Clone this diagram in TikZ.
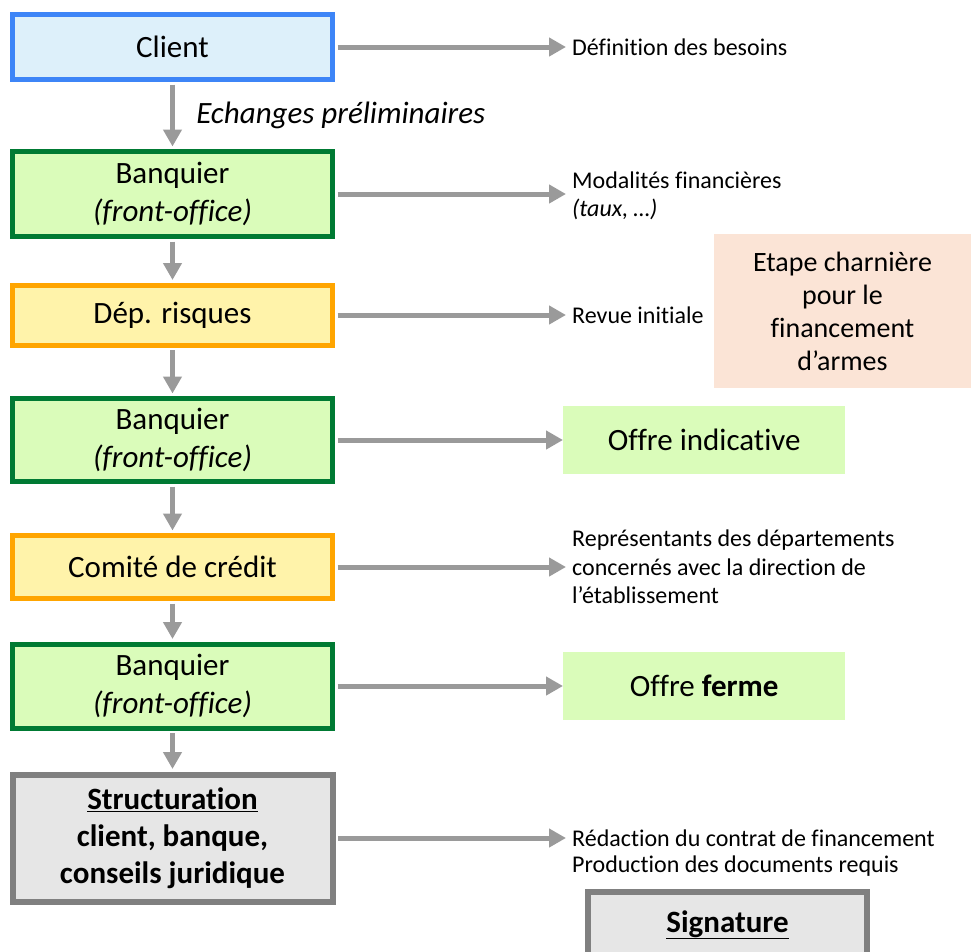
\documentclass[tikz,border=0pt]{standalone}
\usepackage{fontspec}
\setmainfont{Carlito}[Ligatures=NoCommon]
\usetikzlibrary{arrows.meta}
\definecolor{bleuBord}{RGB}{61,133,247}
\definecolor{bleuFond}{RGB}{221,240,250}
\definecolor{vertBord}{RGB}{0,122,51}
\definecolor{vertFond}{RGB}{218,252,186}
\definecolor{orangeBord}{RGB}{255,165,0}
\definecolor{jauneFond}{RGB}{255,243,170}
\definecolor{grisBord}{RGB}{128,128,128}
\definecolor{grisFond}{RGB}{230,230,230}
\definecolor{roseFond}{RGB}{251,228,214}
\definecolor{grisFleche}{RGB}{154,154,154}
\tikzset{
	boite/.style={draw, line width=5pt, inner sep=0pt, minimum width=320pt, align=center,
		font=\fontsize{31}{38}\selectfont},
	client/.style={boite, draw=bleuBord, fill=bleuFond},
	banquier/.style={boite, draw=vertBord, fill=vertFond},
	risque/.style={boite, draw=orangeBord, fill=jauneFond},
	structure/.style={boite, line width=6pt, draw=grisBord, fill=grisFond},
	note/.style={anchor=west, inner xsep=6pt, inner ysep=0pt, align=left,
		font=\fontsize{24}{28.5}\selectfont},
	offre/.style={anchor=west, fill=vertFond, minimum width=282pt, minimum height=68pt,
		font=\fontsize{31}{38}\selectfont},
	fleche/.style={draw=grisFleche, line width=5pt, shorten <=2.5pt,
		-{Triangle[length=17pt,width=18pt]}},
}
\begin{document}
\begin{tikzpicture}[x=1pt,y=-1pt]
	\clip (0,0) rectangle (971,951);
	% colonne de gauche
	\node[client, minimum height=65pt] (cli) at (172.5,47) {Client};
	\node[banquier, minimum height=85pt] (bq1) at (172.5,194) {Banquier\\\textit{(front-office)}};
	\node[risque, minimum height=60pt] (dep) at (172.5,315) {Dép. risques};
	\node[banquier, minimum height=83pt] (bq2) at (172.5,440) {Banquier\\\textit{(front-office)}};
	\node[risque, minimum height=63pt] (com) at (172.5,567) {Comité de crédit};
	\node[banquier, minimum height=84pt] (bq3) at (172.5,686) {Banquier\\\textit{(front-office)}};
	\node[structure, minimum height=127pt, font=\fontsize{31}{37}\selectfont\bfseries] (str) at (172.5,838)
		{\underline{Structuration}\\client, banque,\\conseils juridique};
	% colonne de droite
	\node[note] (def) at (566,47) {Définition des besoins};
	\node[note] (mod) at (566,196) {Modalités financières\\\textit{(taux, …)}};
	\node[note] (rev) at (566,315) {Revue initiale};
	\node[offre] (ind) at (563,440) {Offre indicative};
	\node[note] (rep) at (566,567) {Représentants des départements\\concernés avec la direction de\\l’établissement};
	\node[offre] (fer) at (563,686) {Offre \textbf{ferme}};
	\node[note] (red) at (566,838) {Rédaction du contrat de financement};
	\node[note] (pro) at (566,866) {Production des documents requis};
	\node[fill=roseFond, minimum width=257pt, minimum height=154pt, align=center,
		font=\fontsize{28}{33}\selectfont] (eta) at (842.5,311)
		{Etape charnière\\pour le\\financement\\d’armes};
	\node[draw=grisBord, fill=grisFond, line width=6pt, anchor=north, minimum width=279pt,
		inner sep=0pt, text height=40pt, text depth=80pt,
		font=\fontsize{31}{37}\selectfont\bfseries] (sig) at (727.5,889) {\underline{Signature}};
	% fleches verticales
	\draw[fleche, shorten >=2.5pt] (cli) -- (bq1)
		node[midway, right=18pt, font=\fontsize{31}{38}\selectfont\itshape] {Echanges préliminaires};
	\draw[fleche, shorten >=2.5pt] (bq1) -- (dep);
	\draw[fleche, shorten >=2.5pt] (dep) -- (bq2);
	\draw[fleche, shorten >=2.5pt] (bq2) -- (com);
	\draw[fleche, shorten >=2.5pt] (com) -- (bq3);
	\draw[fleche, shorten >=2.5pt] (bq3) -- (str);
	% fleches horizontales
	\draw[fleche] (cli.east) -- (def.west);
	\draw[fleche] (bq1.east) -- (mod.west |- bq1.east);
	\draw[fleche] (dep.east) -- (rev.west);
	\draw[fleche] (bq2.east) -- (ind.west);
	\draw[fleche] (com.east) -- (rep.west);
	\draw[fleche] (bq3.east) -- (fer.west);
	\draw[fleche] (str.east) -- (red.west);
\end{tikzpicture}
\end{document}
